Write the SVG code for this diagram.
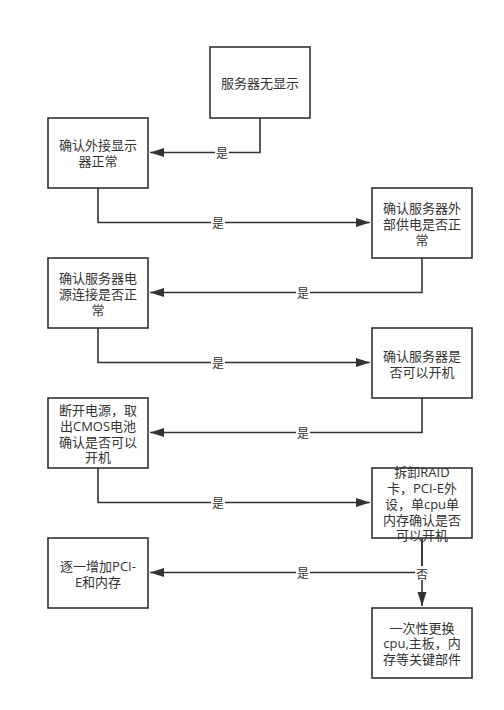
<svg xmlns="http://www.w3.org/2000/svg" width="504" height="710" viewBox="0 0 504 710">
<defs>
<marker id="arr" markerWidth="16" markerHeight="10" refX="14" refY="4.5" orient="auto" markerUnits="userSpaceOnUse">
<path d="M0,0 L14,4.5 L0,9 Z" fill="#333"/>
</marker>
</defs>
<style>
.box{fill:#fff;stroke:#333;stroke-width:1.6}
.t{font-family:"Open Sans","Noto Sans CJK SC",sans-serif;font-size:13px;fill:#333;text-anchor:middle;dominant-baseline:central}
.e{fill:none;stroke:#333;stroke-width:1.6}
.lb{fill:#fff}
.l{font-family:"Open Sans","Noto Sans CJK SC",sans-serif;font-size:12px;fill:#333;text-anchor:middle;dominant-baseline:central}
</style>
<rect width="504" height="710" fill="#fff"/>
<g id="edges">
<path class="e" d="M260,118 V152.5 H150" marker-end="url(#arr)"/>
<path class="e" d="M98,188 V222.5 H370" marker-end="url(#arr)"/>
<path class="e" d="M422,258 V292.5 H150" marker-end="url(#arr)"/>
<path class="e" d="M98,328 V362.5 H370" marker-end="url(#arr)"/>
<path class="e" d="M422,398 V432.5 H150" marker-end="url(#arr)"/>
<path class="e" d="M98,468 V502.5 H370" marker-end="url(#arr)"/>
<path class="e" d="M422,538 V572.5 H150" marker-end="url(#arr)"/>
<path class="e" d="M422,538 V606" marker-end="url(#arr)"/>
<rect class="lb" x="215" y="145" width="14" height="15"/><text class="l" x="222" y="153">是</text>
<rect class="lb" x="211" y="215" width="14" height="15"/><text class="l" x="218" y="223">是</text>
<rect class="lb" x="296" y="285" width="14" height="15"/><text class="l" x="303" y="293">是</text>
<rect class="lb" x="211" y="355" width="14" height="15"/><text class="l" x="218" y="363">是</text>
<rect class="lb" x="296" y="425" width="14" height="15"/><text class="l" x="303" y="433">是</text>
<rect class="lb" x="211" y="495" width="14" height="15"/><text class="l" x="218" y="503">是</text>
<rect class="lb" x="296" y="565" width="14" height="15"/><text class="l" x="303" y="573">是</text>
<rect class="lb" x="415" y="566" width="14" height="14"/><text class="l" x="422" y="574">否</text>
</g>
<g id="n0"><rect class="box" x="210" y="47" width="100" height="71"/><text class="t" x="260" y="83">服务器无显示</text></g>
<g id="n1"><rect class="box" x="48" y="118" width="100" height="70"/><text class="t" x="98" y="145">确认外接显示</text><text class="t" x="98" y="161">器正常</text></g>
<g id="n2"><rect class="box" x="372" y="188" width="100" height="70"/><text class="t" x="422" y="208">确认服务器外</text><text class="t" x="422" y="224">部供电是否正</text><text class="t" x="422" y="240">常</text></g>
<g id="n3"><rect class="box" x="48" y="258" width="100" height="70"/><text class="t" x="98" y="278">确认服务器电</text><text class="t" x="98" y="294">源连接是否正</text><text class="t" x="98" y="310">常</text></g>
<g id="n4"><rect class="box" x="372" y="328" width="100" height="70"/><text class="t" x="422" y="356">确认服务器是</text><text class="t" x="422" y="372">否可以开机</text></g>
<g id="n5"><rect class="box" x="48" y="398" width="100" height="70"/><text class="t" x="98" y="410">断开电源，取</text><text class="t" x="98" y="426">出CMOS电池</text><text class="t" x="98" y="442">确认是否可以</text><text class="t" x="98" y="457">开机</text></g>
<g id="n6"><rect class="box" x="372" y="468" width="100" height="70"/><text class="t" x="422" y="472">拆卸RAID</text><text class="t" x="422" y="488">卡，PCI-E外</text><text class="t" x="422" y="504">设，单cpu单</text><text class="t" x="422" y="520">内存确认是否</text><text class="t" x="422" y="535">可以开机</text></g>
<g id="n7"><rect class="box" x="48" y="538" width="100" height="70"/><text class="t" x="98" y="566">逐一增加PCI-</text><text class="t" x="98" y="582">E和内存</text></g>
<g id="n8"><rect class="box" x="372" y="608" width="100" height="70"/><text class="t" x="422" y="628">一次性更换</text><text class="t" x="422" y="643">cpu,主板，内</text><text class="t" x="422" y="659">存等关键部件</text></g>
</svg>
